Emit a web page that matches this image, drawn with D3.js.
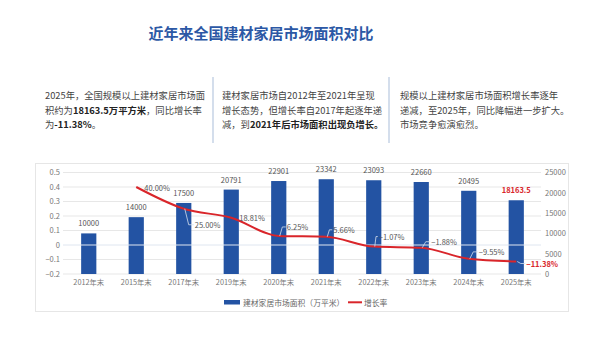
<!DOCTYPE html>
<html>
<head>
<meta charset="utf-8">
<script src="https://cdn.jsdelivr.net/npm/d3@7/dist/d3.min.js"></script>
<style>
  html, body { margin: 0; padding: 0; background: #fff; }
  svg { display: block; font-family: "Noto Sans CJK SC", "Noto Sans", sans-serif; }
</style>
</head>
<body>
<svg id="chart" width="600" height="338"></svg>
<script>
// ---- data ----
const categories = ["2012年末", "2015年末", "2017年末", "2019年末", "2020年末",
                    "2021年末", "2022年末", "2023年末", "2024年末", "2025年末"];
const areaValues = [10000, 14000, 17500, 20791, 22901, 23342, 23093, 22660, 20495, 18163.5];
const growthRates = [null, 0.40, 0.25, 0.1881, 0.0625, 0.0566, -0.0107, -0.0188, -0.0955, -0.1138];
const leftTicks = [0.5, 0.4, 0.3, 0.2, 0.1, 0, -0.1, -0.2];
const rightTicks = [25000, 20000, 15000, 10000, 5000, 0];
const seriesNames = ["建材家居市场面积（万平米）", "增长率"];

// placement of each growth-rate label relative to its point
const rateLabelOffsets = [null, [8, 0], [11, 16], [8, 0], [8, -9], [7, -7], [5, -10], [10, -6], [10, -7], [10, 2]];

const title = "近年来全国建材家居市场面积对比";
const notes = [
  { x: 45, lines: [
      [["2025年，全国规模以上建材家居市场面", false]],
      [["积约为", false], ["18163.5万平方米", true], ["，同比增长率", false]],
      [["为", false], ["-11.38%", true], ["。", false]] ] },
  { x: 222, lines: [
      [["建材家居市场自2012年至2021年呈现", false]],
      [["增长态势，但增长率自2017年起逐年递", false]],
      [["减，到", false], ["2021年后市场面积出现负增长。", true]] ] },
  { x: 400, lines: [
      [["规模以上建材家居市场面积增长率逐年", false]],
      [["递减，至2025年，同比降幅进一步扩大。", false]],
      [["市场竞争愈演愈烈。", false]] ] }
];

const BLUE = "#2353a3";
const RED = "#d9252a";

const svg = d3.select("#chart");

// ---- heading ----
svg.append("text")
  .attr("x", 261).attr("y", 32)
  .attr("text-anchor", "middle").attr("dominant-baseline", "central")
  .attr("font-size", 15).attr("font-weight", 700).attr("fill", "#2c58a5")
  .text(title);

// ---- note paragraphs ----
const lineYs = [95, 109.5, 124];
notes.forEach(n => {
  n.lines.forEach((segs, i) => {
    const t = svg.append("text")
      .attr("x", n.x).attr("y", lineYs[i])
      .attr("dominant-baseline", "central")
      .attr("font-size", 9.3).attr("fill", "#444");
    segs.forEach(([s, b]) => {
      t.append("tspan")
        .attr("font-weight", b ? 700 : 400)
        .attr("fill", b ? "#222" : "#444")
        .text(s);
    });
  });
});
[213, 389].forEach(x => {
  svg.append("line")
    .attr("x1", x).attr("x2", x).attr("y1", 77).attr("y2", 143)
    .attr("stroke", "#c6d3e6").attr("stroke-width", 1.5);
});

// ---- chart panel ----
svg.append("rect")
  .attr("x", 35.5).attr("y", 163.5).attr("width", 533).attr("height", 148)
  .attr("fill", "#fff").attr("stroke", "#e6e6e6");

const x = d3.scaleBand().domain(categories).range([65, 540]).padding(0);
const yL = d3.scaleLinear().domain([-0.2, 0.5]).range([274, 172.5]);
const yR = d3.scaleLinear().domain([0, 25000]).range([274, 172.5]);
const barW = x.bandwidth() * 0.32;

// gridlines
svg.append("g").selectAll("line").data(leftTicks.filter(t => t !== 0)).join("line")
  .attr("x1", 63).attr("x2", 541)
  .attr("y1", d => yL(d)).attr("y2", d => yL(d))
  .attr("stroke", "#e7e7e7").attr("stroke-width", 1);

// left axis
const axL = svg.append("g").attr("transform", "translate(63,0)")
  .call(d3.axisLeft(yL).tickValues(leftTicks).tickSize(0).tickPadding(3)
    .tickFormat(d => d === 0 ? "0" : d3.format(".1f")(d)));
axL.select(".domain").remove();
axL.selectAll("text").attr("font-size", 7.5).attr("fill", "#777")
  .attr("font-family", "\"Noto Sans CJK SC\", sans-serif");

// right axis
const axR = svg.append("g").attr("transform", "translate(541,0)")
  .call(d3.axisRight(yR).tickValues(rightTicks).tickSize(0).tickPadding(4).tickFormat(d3.format("d")));
axR.select(".domain").remove();
axR.selectAll("text").attr("font-size", 7.5).attr("fill", "#777")
  .attr("font-family", "\"Noto Sans CJK SC\", sans-serif");

// x axis labels
const axX = svg.append("g").attr("transform", "translate(0,276)")
  .call(d3.axisBottom(x).tickSize(0).tickPadding(4));
axX.select(".domain").remove();
axX.selectAll("text").attr("font-size", 7.3).attr("fill", "#777")
  .attr("font-family", "\"Noto Sans CJK SC\", sans-serif");

// bars
svg.append("g").selectAll("rect").data(areaValues).join("rect")
  .attr("x", (d, i) => x(categories[i]) + x.bandwidth() / 2 - barW / 2)
  .attr("y", d => yR(d))
  .attr("width", barW)
  .attr("height", d => yR(0) - yR(d))
  .attr("fill", BLUE);

// zero line drawn over the bars
svg.append("line")
  .attr("x1", 63).attr("x2", 541)
  .attr("y1", yL(0)).attr("y2", yL(0))
  .attr("stroke", "#dfe6f0").attr("stroke-width", 1);

// bar value labels
const last = areaValues.length - 1;
svg.append("g").selectAll("text").data(areaValues).join("text")
  .attr("x", (d, i) => x(categories[i]) + x.bandwidth() / 2)
  .attr("y", d => yR(d) - 7)
  .attr("text-anchor", "middle")
  .attr("font-size", 7.5)
  .attr("font-weight", (d, i) => i === last ? 700 : 400)
  .attr("fill", (d, i) => i === last ? RED : "#555")
  .text(d => d % 1 ? d.toFixed(1) : d);

// growth-rate line
const pts = growthRates
  .map((r, i) => r === null ? null : { i, r, px: x(categories[i]) + x.bandwidth() / 2, py: yL(r) })
  .filter(Boolean);

svg.append("path")
  .datum(pts)
  .attr("fill", "none")
  .attr("stroke", RED)
  .attr("stroke-width", 2)
  .attr("d", d3.line().x(d => d.px).y(d => d.py).curve(d3.curveMonotoneX));

// leader lines and rate labels
const fmtRate = d3.format(".2%");
pts.forEach(p => {
  const [dx, dy] = rateLabelOffsets[p.i];
  const lx = p.px + dx, ly = p.py + dy;
  if (dy !== 0) {
    svg.append("polyline")
      .attr("points", [[p.px + 1, p.py], [p.px + dx * 0.45, ly], [lx - 1, ly]].map(q => q.join(",")).join(" "))
      .attr("fill", "none")
      .attr("stroke", "#d5dfee")
      .attr("stroke-width", 0.8);
  }
  svg.append("text")
    .attr("x", lx).attr("y", ly)
    .attr("dominant-baseline", "central")
    .attr("font-size", 7.5)
    .attr("font-weight", p.i === last ? 700 : 400)
    .attr("fill", p.i === last ? RED : "#555")
    .text(fmtRate(p.r));
});

// legend
const lg = svg.append("g");
lg.append("rect").attr("x", 224).attr("y", 300).attr("width", 16).attr("height", 4.5).attr("fill", BLUE);
lg.append("text").attr("x", 243).attr("y", 302.3).attr("dominant-baseline", "central")
  .attr("font-size", 7.8).attr("fill", "#666").text(seriesNames[0]);
lg.append("line").attr("x1", 348).attr("x2", 362).attr("y1", 302.3).attr("y2", 302.3)
  .attr("stroke", RED).attr("stroke-width", 2);
lg.append("text").attr("x", 364).attr("y", 302.3).attr("dominant-baseline", "central")
  .attr("font-size", 7.8).attr("fill", "#666").text(seriesNames[1]);
</script>
</body>
</html>
